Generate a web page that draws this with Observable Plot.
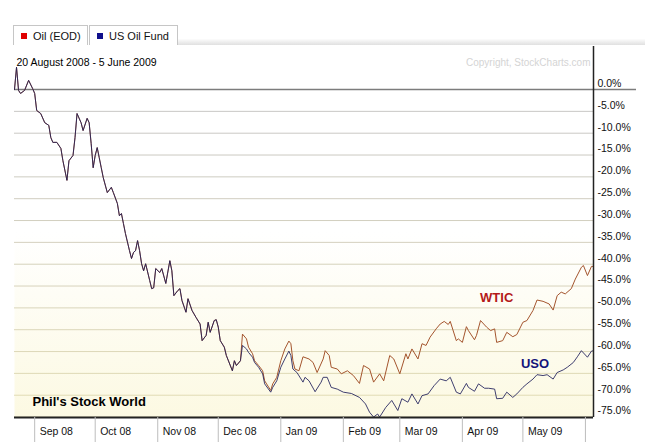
<!DOCTYPE html>
<html><head><meta charset="utf-8">
<script src="https://cdn.jsdelivr.net/npm/d3@7"></script>
<script src="https://cdn.jsdelivr.net/npm/@observablehq/plot@0.6"></script>
<style>
body{margin:0;background:#fff;font-family:"Liberation Sans",Arial,sans-serif;}
#wrap{position:relative;width:645px;height:442px;overflow:hidden;}
#tabs{position:relative;width:645px;height:45px;}
.tab{position:absolute;top:25px;height:20px;border:1px solid #c6c6c6;border-bottom:none;background:#fff;font-size:11px;line-height:20px;color:#111;box-sizing:border-box;white-space:nowrap;}
.sw{display:inline-block;width:6px;height:6px;margin:0 6px 0 7px;vertical-align:1px;}
#band{position:absolute;left:178px;right:0;top:39px;height:6px;background:linear-gradient(#fcfcfc,#e0e0e0);}
svg{display:block}
</style></head>
<body>
<div id="wrap">
  <div id="tabs">
    <div class="tab" style="left:13px;width:75px;"><span class="sw" style="background:#e00000"></span>Oil (EOD)</div>
    <div class="tab" style="left:89px;width:89px;"><span class="sw" style="background:#10108c"></span>US Oil Fund</div>
    <div id="band"></div>
  </div>
  <div id="chart"></div>
</div>
<script>
// Percent change since start, common to both series (they track each other until mid-December)
const commonDates = ["2008-08-22","2008-08-23","2008-08-24","2008-08-25","2008-08-27","2008-08-29","2008-08-31","2008-09-01","2008-09-02","2008-09-04","2008-09-06","2008-09-08","2008-09-09","2008-09-10","2008-09-12","2008-09-14","2008-09-15","2008-09-17","2008-09-18","2008-09-20","2008-09-21","2008-09-22","2008-09-24","2008-09-25","2008-09-27","2008-09-28","2008-09-29","2008-09-30","2008-10-01","2008-10-02","2008-10-03","2008-10-04","2008-10-05","2008-10-07","2008-10-09","2008-10-10","2008-10-12","2008-10-13","2008-10-14","2008-10-15","2008-10-16","2008-10-18","2008-10-19","2008-10-20","2008-10-21","2008-10-22","2008-10-23","2008-10-24","2008-10-25","2008-10-26","2008-10-28","2008-10-29","2008-10-30","2008-10-31","2008-11-02","2008-11-03","2008-11-05","2008-11-07","2008-11-08","2008-11-09","2008-11-11","2008-11-12","2008-11-13","2008-11-15","2008-11-16","2008-11-18","2008-11-20","2008-11-22","2008-11-23","2008-11-25","2008-11-26","2008-11-27","2008-11-29","2008-11-30","2008-12-01","2008-12-02","2008-12-04","2008-12-05","2008-12-08","2008-12-09","2008-12-10","2008-12-12"];
const commonValues = [0.0,5.1,-0.2,-0.9,-0.2,2.1,0.2,-0.9,-4.8,-5.5,-7.6,-8.2,-11.0,-12.1,-12.1,-13.5,-16.3,-20.8,-16.3,-15.1,-11.0,-5.5,-7.6,-9.4,-6.6,-7.6,-12.4,-17.9,-15.1,-13.3,-15.6,-17.9,-20.2,-23.6,-22.4,-23.6,-26.1,-28.9,-28.4,-30.7,-33.0,-36.9,-38.7,-37.3,-36.9,-34.6,-36.9,-39.9,-41.5,-39.9,-43.7,-45.6,-45.4,-41.0,-41.9,-41.0,-44.4,-39.2,-41.5,-47.2,-46.0,-45.6,-48.3,-51.0,-47.9,-50.6,-52.2,-53.7,-57.5,-56.3,-53.3,-55.6,-52.9,-52.7,-54.4,-57.5,-59.0,-60.9,-64.4,-62.1,-63.2,-62.1];

// WTIC (Oil, EOD) after divergence
const wticDates = ["2008-12-13","2008-12-15","2008-12-16","2008-12-18","2008-12-19","2008-12-21","2008-12-23","2008-12-24","2008-12-27","2008-12-28","2008-12-30","2009-01-01","2009-01-03","2009-01-05","2009-01-06","2009-01-07","2009-01-08","2009-01-10","2009-01-12","2009-01-15","2009-01-17","2009-01-19","2009-01-22","2009-01-23","2009-01-25","2009-01-26","2009-01-29","2009-01-31","2009-02-03","2009-02-06","2009-02-09","2009-02-11","2009-02-14","2009-02-16","2009-02-19","2009-02-21","2009-02-24","2009-02-26","2009-03-01","2009-03-04","2009-03-05","2009-03-07","2009-03-10","2009-03-12","2009-03-14","2009-03-16","2009-03-19","2009-03-21","2009-03-23","2009-03-25","2009-03-26","2009-03-29","2009-03-30","2009-04-01","2009-04-03","2009-04-04","2009-04-07","2009-04-08","2009-04-10","2009-04-13","2009-04-15","2009-04-17","2009-04-18","2009-04-21","2009-04-23","2009-04-26","2009-04-28","2009-05-01","2009-05-03","2009-05-06","2009-05-08","2009-05-11","2009-05-14","2009-05-16","2009-05-18","2009-05-20","2009-05-22","2009-05-25","2009-05-27","2009-05-30","2009-05-31","2009-06-02","2009-06-04","2009-06-05"];
const wticValues = [-56.0,-57.1,-59.0,-60.5,-62.1,-63.2,-64.4,-66.7,-68.9,-67.4,-65.9,-62.1,-59.4,-57.6,-58.2,-62.1,-64.0,-64.4,-61.2,-61.7,-62.5,-64.8,-61.7,-59.8,-60.9,-63.6,-64.0,-65.1,-64.4,-65.5,-67.3,-63.2,-64.0,-67.0,-65.1,-66.7,-60.9,-61.7,-65.1,-60.5,-61.7,-59.4,-61.7,-58.2,-58.6,-56.7,-54.8,-53.7,-53.1,-53.8,-53.1,-57.5,-57.1,-57.9,-54.3,-55.2,-57.3,-56.3,-52.9,-54.4,-55.2,-54.8,-57.9,-57.5,-55.6,-56.6,-56.1,-53.3,-52.9,-50.6,-48.2,-48.5,-49.1,-50.5,-47.2,-46.4,-46.8,-45.6,-43.4,-40.7,-40.3,-42.6,-40.5,-40.5];

// USO (US Oil Fund) after divergence
const usoDates = ["2008-12-13","2008-12-15","2008-12-16","2008-12-18","2008-12-19","2008-12-21","2008-12-23","2008-12-24","2008-12-27","2008-12-28","2008-12-30","2009-01-01","2009-01-03","2009-01-05","2009-01-06","2009-01-07","2009-01-09","2009-01-12","2009-01-13","2009-01-15","2009-01-18","2009-01-21","2009-01-22","2009-01-24","2009-01-26","2009-01-29","2009-02-01","2009-02-05","2009-02-09","2009-02-12","2009-02-14","2009-02-16","2009-02-18","2009-02-19","2009-02-22","2009-02-25","2009-02-28","2009-03-02","2009-03-05","2009-03-07","2009-03-10","2009-03-12","2009-03-15","2009-03-18","2009-03-21","2009-03-24","2009-03-26","2009-03-29","2009-03-31","2009-04-03","2009-04-04","2009-04-07","2009-04-09","2009-04-12","2009-04-14","2009-04-17","2009-04-18","2009-04-21","2009-04-23","2009-04-26","2009-04-28","2009-05-01","2009-05-03","2009-05-06","2009-05-08","2009-05-11","2009-05-13","2009-05-16","2009-05-18","2009-05-21","2009-05-23","2009-05-26","2009-05-28","2009-05-30","2009-06-02","2009-06-04","2009-06-05"];
const usoValues = [-58.6,-59.4,-60.2,-61.3,-62.5,-63.6,-65.1,-67.4,-69.3,-68.2,-66.7,-63.6,-61.7,-59.9,-60.9,-64.0,-64.8,-67.0,-65.9,-66.7,-69.2,-67.0,-65.9,-65.9,-68.2,-68.6,-69.3,-69.6,-70.5,-72.0,-73.9,-75.0,-74.3,-75.0,-72.8,-71.2,-73.5,-70.8,-71.6,-69.7,-72.0,-70.1,-69.7,-67.8,-66.3,-66.7,-65.9,-69.3,-69.7,-67.3,-68.2,-69.1,-67.4,-68.4,-68.4,-68.6,-70.8,-70.7,-69.3,-70.5,-69.7,-68.2,-67.4,-66.3,-65.3,-65.5,-65.3,-66.3,-64.8,-64.2,-63.6,-62.5,-61.2,-59.8,-61.3,-59.9,-59.8];

// Axis ticks
const yTicks = [0,-5,-10,-15,-20,-25,-30,-35,-40,-45,-50,-55,-60,-65,-70,-75];
const monthTicks = ["2008-09-01","2008-10-01","2008-11-01","2008-12-01","2009-01-01","2009-02-01","2009-03-01","2009-04-01","2009-05-01","2009-06-01"];
const monthLabelTicks = ["2008-09-01","2008-10-01","2008-11-01","2008-12-01","2009-01-01","2009-02-01","2009-03-01","2009-04-01","2009-05-01"];

// In-chart series labels
const labelNames = ["WTIC","USO"];
const labelDates = ["2009-04-18","2009-05-07"];
const labelValues = [-47.6,-62.8];
const labelColors = ["#b41a1a","#14147a"];

const parse = s => new Date(s);
const wtic = commonDates.map((d,i)=>({date:parse(d), value:commonValues[i]}))
  .concat(wticDates.map((d,i)=>({date:parse(d), value:wticValues[i]})));
const uso = commonDates.map((d,i)=>({date:parse(d), value:commonValues[i]}))
  .concat(usoDates.map((d,i)=>({date:parse(d), value:usoValues[i]})));
const labels = labelNames.map((n,i)=>({name:n, date:parse(labelDates[i]), value:labelValues[i], color:labelColors[i]}));

const xDomain = [parse("2008-08-22"), parse("2009-06-05")];
const yDomain = [-75.1, 9.85];
const gridColor = d3.interpolateRgb("#c6c6c6", "#e3dcb4");
const font = '"Liberation Sans", Arial, sans-serif';

const chart = Plot.plot({
  width: 645,
  height: 397,
  marginTop: 1,
  marginBottom: 25,
  marginLeft: 14,
  marginRight: 52,
  style: {fontFamily: font, fontSize: "10.5px", color: "#111", background: "#fff"},
  x: {type: "utc", domain: xDomain},
  y: {domain: yDomain},
  marks: [
    Plot.frame({fill: "url(#bgGrad)", stroke: null}),
    ...yTicks.filter(v => v !== 0).map(v => Plot.ruleY([v], {stroke: gridColor(-v / 75), strokeWidth: 1})),
    Plot.ruleY([0], {stroke: "#7c7c7c", strokeWidth: 1.5}),
    Plot.axisY({anchor: "right", ticks: [0], tickSize: 42, text: null, stroke: "#7c7c7c", strokeWidth: 1.5, label: null}),
    Plot.line(wtic, {x: "date", y: "value", stroke: "#a4552e", strokeWidth: 1}),
    Plot.line(uso, {x: "date", y: "value", stroke: "#1e1e5a", strokeWidth: 1, strokeOpacity: 0.85}),
    Plot.ruleY([yDomain[0]], {stroke: "#222", strokeWidth: 2}),
    Plot.ruleX([xDomain[1]], {stroke: "#222", strokeWidth: 1.5}),
    Plot.axisY({anchor: "right", ticks: yTicks, tickSize: 0, tickPadding: 4, dy: -6,
      tickFormat: d => d.toFixed(1) + "%", label: null, fill: "#111"}),
    Plot.axisX({ticks: monthTicks.map(parse), tickSize: 25, text: null, stroke: "#bdbdbd", label: null}),
    Plot.axisX({ticks: monthLabelTicks.map(parse), tickSize: 0, tickPadding: 10, textAnchor: "start", dx: 5,
      tickFormat: d3.utcFormat("%b %y"), label: null, fontSize: 10.5, fill: "#111"}),
    Plot.text(labels, {x: "date", y: "value", text: "name", fill: "color", fontWeight: "bold", fontSize: 13}),
    Plot.text(["Phil's Stock World"], {frameAnchor: "bottom-left", dx: 18, dy: -16, lineAnchor: "middle",
      textAnchor: "start", fontWeight: "bold", fontSize: 13, fill: "#000"}),
    Plot.text(["20 August 2008 - 5 June 2009"], {frameAnchor: "top-left", dx: 2, dy: 16, lineAnchor: "middle",
      textAnchor: "start", fontSize: 10.5, fill: "#000"}),
    Plot.text(["Copyright, StockCharts.com"], {frameAnchor: "top-right", dx: -3, dy: 16, lineAnchor: "middle",
      textAnchor: "end", fontSize: 10, fill: "#d4d4d4"})
  ]
});

const defs = d3.select(chart).insert("defs", ":first-child");
const grad = defs.append("linearGradient").attr("id", "bgGrad").attr("x1", 0).attr("y1", 0).attr("x2", 0).attr("y2", 1);
grad.append("stop").attr("offset", "0").attr("stop-color", "#ffffff");
grad.append("stop").attr("offset", "0.5").attr("stop-color", "#ffffff");
grad.append("stop").attr("offset", "1").attr("stop-color", "#fcf9e2");

document.getElementById("chart").appendChild(chart);
</script>
</body></html>
